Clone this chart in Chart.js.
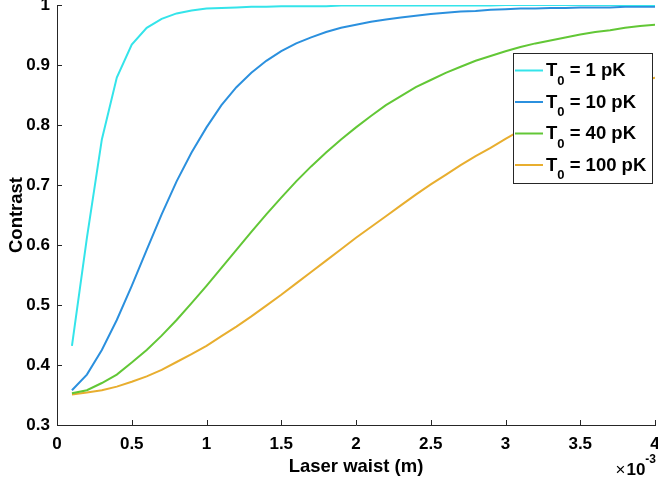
<!DOCTYPE html>
<html>
<head>
<meta charset="utf-8">
<script src="https://cdn.jsdelivr.net/npm/chart.js@4/dist/chart.umd.min.js"></script>
<style>
html,body{margin:0;padding:0;background:#ffffff;}
#wrap{width:658px;height:481px;}
</style>
</head>
<body>
<div id="wrap"><canvas id="c" width="658" height="481"></canvas></div>
<script>
// ---- data (laser waist in units of 1e-3 m) ----
const waist = [0.1,0.2,0.3,0.4,0.5,0.6,0.7,0.8,0.9,1.0,
               1.1,1.2,1.3,1.4,1.5,1.6,1.7,1.8,1.9,2.0,
               2.1,2.2,2.3,2.4,2.5,2.6,2.7,2.8,2.9,3.0,
               3.1,3.2,3.3,3.4,3.5,3.6,3.7,3.8,3.9,4.0];

const contrastT1 = [0.432,0.612,0.776,0.879,0.934,0.962,0.977,0.986,0.991,0.994,
                    0.995,0.996,0.997,0.997,0.998,0.998,0.998,0.998,0.999,0.999,
                    0.999,0.999,0.999,0.999,0.999,0.999,0.999,0.999,0.999,1.000,
                    1.000,1.000,1.000,1.000,1.000,1.000,1.000,1.000,1.000,1.000];

const contrastT10 = [0.358,0.384,0.425,0.475,0.532,0.592,0.651,0.706,0.754,0.796,
                     0.833,0.863,0.887,0.907,0.923,0.936,0.946,0.955,0.962,0.967,
                     0.972,0.976,0.979,0.982,0.985,0.987,0.989,0.990,0.992,0.993,
                     0.994,0.994,0.995,0.995,0.996,0.996,0.996,0.997,0.997,0.997];

const contrastT40 = [0.353,0.358,0.370,0.384,0.404,0.425,0.449,0.475,0.503,0.532,
                     0.562,0.592,0.622,0.651,0.679,0.706,0.731,0.754,0.776,0.796,
                     0.815,0.833,0.848,0.863,0.875,0.887,0.897,0.907,0.915,0.923,
                     0.930,0.936,0.941,0.946,0.951,0.955,0.958,0.962,0.965,0.967];

const contrastT100 = [0.351,0.354,0.358,0.364,0.372,0.381,0.392,0.405,0.418,0.432,
                      0.448,0.464,0.481,0.499,0.517,0.536,0.555,0.574,0.593,0.612,
                      0.630,0.648,0.666,0.684,0.701,0.717,0.733,0.748,0.762,0.777,
                      0.791,0.804,0.816,0.828,0.839,0.849,0.858,0.866,0.873,0.879];

const temperatures = ['1 pK','10 pK','40 pK','100 pK'];
const seriesColors = ['#34E4EA','#2B90DE','#62C736','#E8AE2F'];
const xAxisTitle = 'Laser waist (m)';
const yAxisTitle = 'Contrast';
const xExponent = ['\u00D7','10','-3'];

const FONT = '"Liberation Sans", Arial, Helvetica, sans-serif';
const AXIS = '#262626';

const allSeries = [contrastT1, contrastT10, contrastT40, contrastT100];
const datasets = allSeries.map((vals, i) => ({
  label: 'T0 = ' + temperatures[i],
  data: waist.map((w, k) => ({x: w, y: vals[k]})),
  borderColor: seriesColors[i],
  backgroundColor: seriesColors[i],
  borderWidth: 2,
  pointRadius: 0,
  tension: 0,
  fill: false
}));

function fmt(v){ return String(Number(Number(v).toFixed(2))); }

const inwardTicks = {
  id: 'inwardTicks',
  afterDatasetsDraw(chart){
    const {ctx, chartArea: a, scales: {x, y}} = chart;
    ctx.save();
    ctx.strokeStyle = AXIS;
    ctx.lineWidth = 1;
    x.ticks.forEach(t => {
      const px = Math.round(x.getPixelForValue(t.value)) + 0.5;
      ctx.beginPath(); ctx.moveTo(px, a.bottom); ctx.lineTo(px, a.bottom - 5); ctx.stroke();
    });
    y.ticks.forEach(t => {
      const py = Math.round(y.getPixelForValue(t.value)) + 0.5;
      ctx.beginPath(); ctx.moveTo(a.left, py); ctx.lineTo(a.left + 5, py); ctx.stroke();
    });
    ctx.restore();
  }
};

const legendAndExponent = {
  id: 'legendAndExponent',
  afterDraw(chart){
    const ctx = chart.ctx;
    const a = chart.chartArea;
    ctx.save();
    // exponent label below the right end of x axis (right aligned at axis end)
    ctx.fillStyle = '#000';
    ctx.textBaseline = 'alphabetic';
    ctx.textAlign = 'left';
    ctx.font = 'bold 12px ' + FONT;
    const wSup = ctx.measureText(xExponent[2]).width;
    ctx.font = 'bold 17px ' + FONT;
    const wTen = ctx.measureText(xExponent[1]).width;
    ctx.font = '17px ' + FONT;
    const wTimes = ctx.measureText(xExponent[0]).width;
    let ex = a.right + 1 - wSup - wTen - wTimes - 1;
    ctx.fillText(xExponent[0], ex, a.bottom + 50);
    ex += wTimes + 1;
    ctx.font = 'bold 17px ' + FONT;
    ctx.fillText(xExponent[1], ex, a.bottom + 50);
    ex += wTen;
    ctx.font = 'bold 12px ' + FONT;
    ctx.fillText(xExponent[2], ex, a.bottom + 38);

    // legend box
    const bx = 513, by = 53, bw = 139, bh = 130;
    ctx.fillStyle = '#fff';
    ctx.fillRect(bx, by, bw, bh);
    ctx.strokeStyle = AXIS;
    ctx.lineWidth = 1;
    ctx.strokeRect(bx + 0.5, by + 0.5, bw, bh);
    chart.data.datasets.forEach((ds, i) => {
      const ly = 70.5 + i * 31.5;
      ctx.strokeStyle = ds.borderColor;
      ctx.lineWidth = 2;
      ctx.beginPath(); ctx.moveTo(515, ly); ctx.lineTo(543, ly); ctx.stroke();
      ctx.fillStyle = '#000';
      const base = ly + 5.5;
      let tx = 546;
      ctx.font = 'bold 18.5px ' + FONT;
      ctx.fillText('T', tx, base);
      tx += ctx.measureText('T').width;
      ctx.font = 'bold 13px ' + FONT;
      ctx.fillText('0', tx, base + 8.5);
      tx += ctx.measureText('0').width;
      ctx.font = 'bold 18.5px ' + FONT;
      ctx.fillText(' = ' + temperatures[i], tx, base);
    });
    ctx.restore();
  }
};

new Chart(document.getElementById('c'), {
  type: 'line',
  data: { datasets },
  options: {
    responsive: false,
    animation: false,
    devicePixelRatio: 1,
    layout: { padding: { left: 0, right: 3, top: 5, bottom: 0 } },
    plugins: { legend: { display: false }, tooltip: { enabled: false } },
    scales: {
      x: {
        type: 'linear', min: 0, max: 4,
        afterFit(s){ s.height = 56; s.paddingLeft = 0; s.paddingRight = 0; },
        grid: { display: false, drawTicks: false, tickLength: 0 },
        border: { display: true, color: AXIS, width: 1 },
        ticks: { stepSize: 0.5, padding: 9, color: '#000', maxRotation: 0, autoSkip: false,
                 font: { family: FONT, size: 17, weight: 'bold' }, callback: v => fmt(v) },
        title: { display: true, text: xAxisTitle, color: '#000',
                 font: { family: FONT, size: 18.5, weight: 'bold' }, padding: { top: 0, bottom: 3 } }
      },
      y: {
        type: 'linear', min: 0.3, max: 1,
        afterFit(s){ s.width = 57; s.paddingTop = 0; s.paddingBottom = 0; },
        grid: { display: false, drawTicks: false, tickLength: 0 },
        border: { display: true, color: AXIS, width: 1 },
        ticks: { stepSize: 0.1, padding: 7, color: '#000',
                 font: { family: FONT, size: 17, weight: 'bold' }, callback: v => fmt(v) },
        title: { display: true, text: yAxisTitle, color: '#000',
                 font: { family: FONT, size: 18.5, weight: 'bold' }, padding: { top: 6, bottom: 0 } }
      }
    }
  },
  plugins: [inwardTicks, legendAndExponent]
});
</script>
</body>
</html>
